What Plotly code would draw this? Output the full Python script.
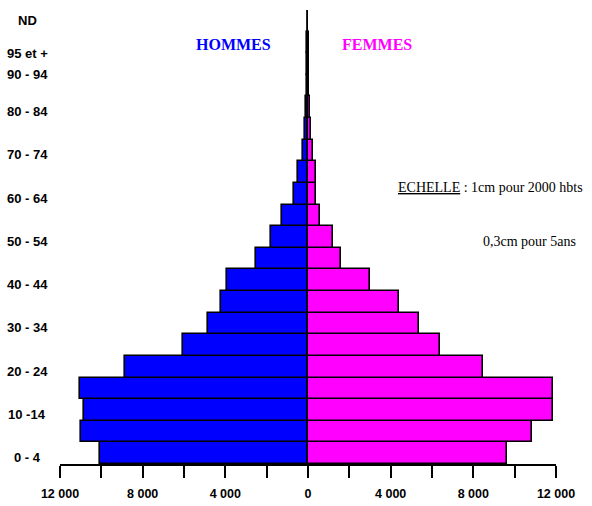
import plotly.graph_objects as go

age_groups = ["0 - 4", "5 - 9", "10 -14", "15 - 19", "20 - 24", "25 - 29", "30 - 34",
              "35 - 39", "40 - 44", "45 - 49", "50 - 54", "55 - 59", "60 - 64", "65 - 69",
              "70 - 74", "75 - 79", "80 - 84", "85 - 89", "90 - 94", "95 et +", "ND"]
shown_labels = ["0 - 4", "10 -14", "20 - 24", "30 - 34", "40 - 44", "50 - 54",
                "60 - 64", "70 - 74", "80 - 84", "90 - 94", "95 et +", "ND"]
hommes = [10050, 11000, 10850, 11050, 8850, 6050, 4850, 4220, 3940, 2520, 1790, 1260,
          670, 480, 240, 160, 100, 50, 30, 25, 10]
femmes = [9620, 10830, 11840, 11840, 8450, 6400, 5390, 4400, 2990, 1600, 1190, 570,
          400, 380, 230, 150, 100, 60, 40, 30, 10]
x_tickvals = list(range(-12000, 12001, 2000))
x_ticktext = ["12 000", "", "8 000", "", "4 000", "", "0", "", "4 000", "", "8 000", "", "12 000"]

ypos = list(range(len(age_groups)))

fig = go.Figure()
fig.add_trace(go.Bar(
    y=ypos, x=[-v for v in hommes], orientation="h", name="HOMMES",
    marker=dict(color="#0000FF", line=dict(color="black", width=1.6)),
    customdata=hommes, hovertemplate="%{customdata}<extra>HOMMES</extra>",
))
fig.add_trace(go.Bar(
    y=ypos, x=femmes, orientation="h", name="FEMMES",
    marker=dict(color="#FF00FF", line=dict(color="black", width=1.6)),
    hovertemplate="%{x}<extra>FEMMES</extra>",
))

sans = "Liberation Sans, Arial, sans-serif"
ylab_font = dict(family=sans, size=13, color="black", weight="bold")
xlab_font = dict(family=sans, size=12.5, color="black", weight="bold")

# small vertical nudges so the age labels sit where the reference prints them
label_nudge = {"90 - 94": -0.3, "95 et +": -0.3, "ND": 0.2}

annotations = []
for lab in shown_labels:
    idx = age_groups.index(lab)
    annotations.append(dict(
        text="<b>%s</b>" % lab, xref="paper", yref="y", x=-0.066,
        y=idx - 0.2 + label_nudge.get(lab, 0.0),
        xanchor="center", yanchor="middle", showarrow=False, font=ylab_font,
    ))

serif = "Liberation Serif, Times New Roman, serif"
annotations += [
    dict(text="<b>HOMMES</b>", xref="paper", yref="paper", x=0.349, y=0.923,
         xanchor="center", yanchor="middle",
         showarrow=False, font=dict(family=serif, size=16, color="#0000FF")),
    dict(text="<b>FEMMES</b>", xref="paper", yref="paper", x=0.639, y=0.923,
         xanchor="center", yanchor="middle",
         showarrow=False, font=dict(family=serif, size=16, color="#FF00FF")),
    dict(text="<u>ECHELLE</u> : 1cm pour 2000 hbts", xref="paper", yref="paper",
         x=0.867, y=0.610, xanchor="center", yanchor="middle",
         showarrow=False, font=dict(family=serif, size=14, color="black")),
    dict(text="0,3cm pour 5ans", xref="paper", yref="paper",
         x=0.946, y=0.489, xanchor="center", yanchor="middle",
         showarrow=False, font=dict(family=serif, size=14, color="black")),
]

fig.update_layout(
    width=592, height=506,
    margin=dict(l=60, r=36, t=10, b=42, autoexpand=False),
    paper_bgcolor="white", plot_bgcolor="white",
    barmode="relative", bargap=0,
    showlegend=False,
    annotations=annotations,
    xaxis=dict(
        range=[-12000, 12000], tickvals=x_tickvals, ticktext=x_ticktext,
        showgrid=False, zeroline=False, showline=True, linecolor="black", linewidth=2,
        ticks="outside", ticklen=12, tickwidth=1.5, tickcolor="black",
        ticklabelstandoff=5, tickfont=xlab_font, automargin=False,
    ),
    yaxis=dict(
        range=[-0.5, 20.5], showticklabels=False, showgrid=False, zeroline=False,
        showline=False, ticks="", automargin=False,
    ),
)

fig.write_html("out.html", config={"displayModeBar": False},
               post_script="document.body.style.margin='0';")
